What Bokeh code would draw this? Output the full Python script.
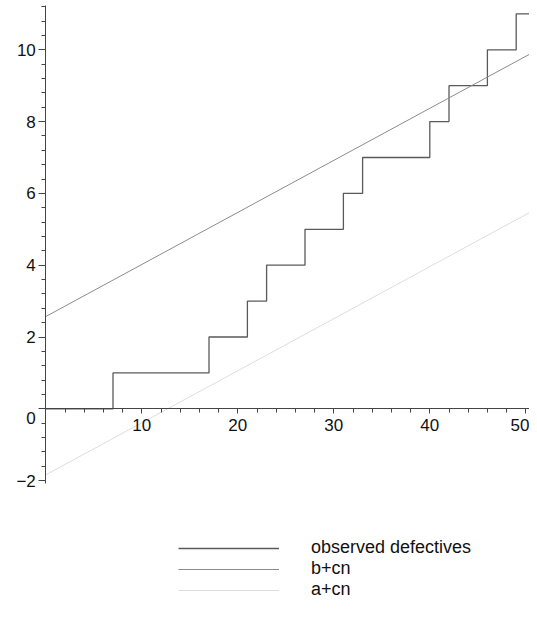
from bokeh.plotting import figure
from bokeh.models import LinearAxis, FixedTicker, Range1d, Legend, LegendItem, Label
from bokeh.embed import file_html
from bokeh.resources import INLINE

# data
jump_n = [7, 17, 21, 23, 27, 31, 33, 40, 42, 46, 49]
n_max = 51.2
a_coef = -1.84
b_coef = 2.57
c_coef = 0.145
x_major = [10, 20, 30, 40, 50]
y_major = [-2, 0, 2, 4, 6, 8, 10]
legend_labels = ["observed defectives", "b+cn", "a+cn"]

step_x = [0] + jump_n + [n_max]
step_y = list(range(0, len(jump_n) + 1)) + [len(jump_n)]
line_n = [0, n_max]
upper = [b_coef + c_coef * n for n in line_n]
lower = [a_coef + c_coef * n for n in line_n]

W, H = 529, 601
px_x = 9.6
px_y = 35.9
x0_pix = 45.3
y0_pix = 408.3
xs = -x0_pix / px_x
xe = xs + W / px_x
ye = y0_pix / px_y
ys = ye - H / px_y

p = figure(width=W, height=H, output_backend="svg", toolbar_location=None,
           x_range=Range1d(xs, xe), y_range=Range1d(ys, ye),
           x_axis_location=None, y_axis_location=None,
           min_border=0, min_border_left=0, min_border_right=0,
           min_border_top=0, min_border_bottom=0)
p.outline_line_color = None
p.xgrid.visible = False
p.ygrid.visible = False
p.background_fill_color = "white"
p.border_fill_color = "white"

FONT = "Liberation Sans"
AX = "#444444"

xaxis = LinearAxis(fixed_location=0, bounds=(0, n_max),
                   ticker=FixedTicker(ticks=x_major,
                                      minor_ticks=[v for v in range(2, 52, 2)]))
xaxis.axis_line_color = AX
xaxis.major_tick_line_color = AX
xaxis.minor_tick_line_color = AX
xaxis.major_tick_out = 5
xaxis.major_tick_in = 0
xaxis.minor_tick_out = 4
xaxis.minor_tick_in = 0
xaxis.major_label_standoff = 5
xaxis.major_label_text_font = FONT
xaxis.major_label_text_font_size = "17px"
xaxis.major_label_text_color = "#111111"
p.add_layout(xaxis, "below")

yminor = [round(-2 + 0.4 * i, 1) for i in range(0, 34)]
yaxis = LinearAxis(fixed_location=0, bounds=(-2.09, 11.23),
                   ticker=FixedTicker(ticks=y_major, minor_ticks=yminor))
yaxis.axis_line_color = AX
yaxis.major_tick_line_color = AX
yaxis.minor_tick_line_color = AX
yaxis.major_tick_out = 7
yaxis.major_tick_in = 0
yaxis.minor_tick_out = 4
yaxis.minor_tick_in = 0
yaxis.major_label_standoff = 3
yaxis.major_label_text_font = FONT
yaxis.major_label_text_font_size = "17px"
yaxis.major_label_text_color = "#111111"
yaxis.major_label_overrides = {0: ""}
p.add_layout(yaxis, "left")

zero_lbl = Label(x=0, y=0, x_offset=-10, y_offset=-9, text="0",
                 text_align="right", text_baseline="middle",
                 text_font=FONT, text_font_size="17px", text_color="#111111")
p.add_layout(zero_lbl)

r_obs = p.step(step_x, step_y, mode="after", line_color="#5a5a5a", line_width=1.3)
r_up = p.line(line_n, upper, line_color="#8c8c8c", line_width=1)
r_lo = p.line(line_n, lower, line_color="#dddddd", line_width=1)

legend = Legend(items=[LegendItem(label=lab, renderers=[r])
                       for lab, r in zip(legend_labels, [r_obs, r_up, r_lo])],
                location=(178, 1), orientation="vertical")
legend.border_line_color = None
legend.background_fill_alpha = 0
legend.padding = 0
legend.margin = 0
legend.spacing = 0
legend.glyph_width = 101
legend.glyph_height = 20
legend.label_height = 20
legend.label_standoff = 32
legend.label_text_font = FONT
legend.label_text_font_size = "18px"
legend.label_text_color = "#111111"
p.add_layout(legend, "center")

open("out.html", "w").write(file_html(p, INLINE))
